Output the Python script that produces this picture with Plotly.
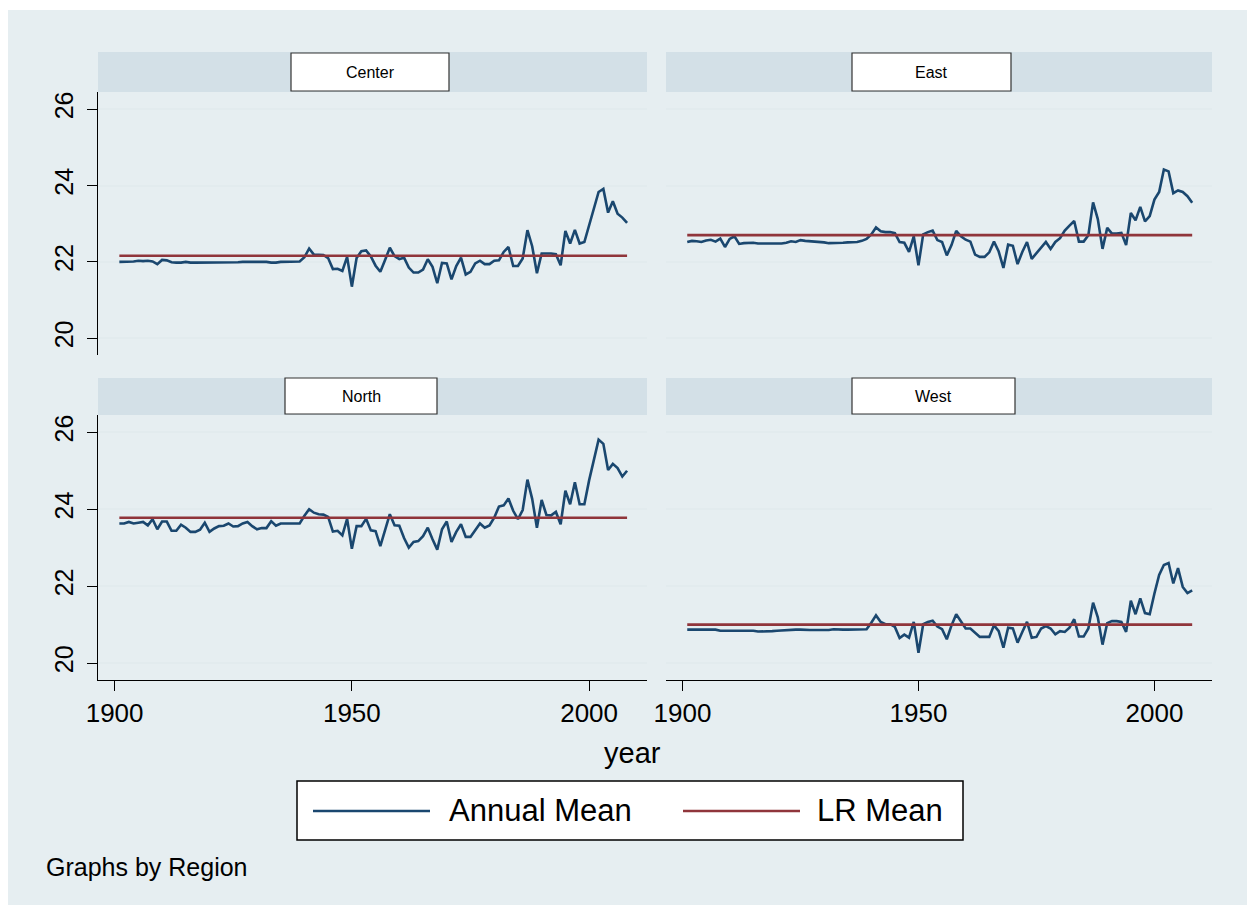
import plotly.graph_objects as go

# ---------------- data ----------------
years = list(range(1901, 2009))
regions = ["Center", "East", "North", "West"]

center = [
    22.00, 22.00, 22.00, 22.01, 22.03, 22.02, 22.03, 22.01, 21.94, 22.05,
    22.04, 21.99, 21.98, 21.98, 22.00, 21.98, 21.98, 21.98, 21.98, 21.98,
    21.98, 21.98, 21.98, 21.98, 21.98, 21.99, 22.00, 22.00, 22.00, 22.00,
    22.00, 22.00, 21.98, 21.98, 22.00, 22.00, 22.00, 22.00, 22.01, 22.12,
    22.35, 22.19, 22.19, 22.18, 22.10, 21.81, 21.82, 21.76, 22.13, 21.35,
    22.10, 22.28, 22.30, 22.14, 21.90, 21.74, 22.05, 22.37, 22.15, 22.07,
    22.11, 21.85, 21.72, 21.72, 21.80, 22.07, 21.87, 21.44, 21.97, 21.96,
    21.54, 21.89, 22.11, 21.67, 21.74, 21.96, 22.03, 21.94, 21.94, 22.03,
    22.04, 22.26, 22.39, 21.89, 21.89, 22.09, 22.83, 22.41, 21.70, 22.22,
    22.22, 22.22, 22.20, 21.91, 22.81, 22.48, 22.84, 22.48, 22.52, 22.95,
    23.40, 23.83, 23.91, 23.29, 23.59, 23.26, 23.16, 23.02,
]

east = [
    22.52, 22.55, 22.54, 22.52, 22.56, 22.58, 22.53, 22.61, 22.39, 22.60,
    22.67, 22.47, 22.49, 22.49, 22.50, 22.48, 22.48, 22.48, 22.49, 22.48,
    22.48, 22.50, 22.54, 22.52, 22.57, 22.55, 22.54, 22.54, 22.53, 22.51,
    22.49, 22.49, 22.50, 22.50, 22.51, 22.51, 22.52, 22.55, 22.60, 22.72,
    22.90, 22.80, 22.78, 22.78, 22.75, 22.52, 22.50, 22.26, 22.67, 21.91,
    22.72, 22.78, 22.82, 22.57, 22.52, 22.17, 22.44, 22.81, 22.67, 22.58,
    22.53, 22.19, 22.13, 22.13, 22.25, 22.53, 22.27, 21.84, 22.45, 22.42,
    21.94, 22.26, 22.52, 22.08, 22.23, 22.40, 22.52, 22.34, 22.52, 22.62,
    22.82, 22.95, 23.07, 22.53, 22.53, 22.70, 23.56, 23.12, 22.34, 22.89,
    22.74, 22.74, 22.76, 22.44, 23.28, 23.09, 23.44, 23.06, 23.20, 23.63,
    23.83, 24.42, 24.37, 23.80, 23.87, 23.83, 23.72, 23.55,
]

north = [
    23.63, 23.63, 23.67, 23.63, 23.65, 23.67, 23.58, 23.74, 23.48, 23.68,
    23.68, 23.44, 23.44, 23.60, 23.52, 23.41, 23.41, 23.47, 23.65, 23.41,
    23.50, 23.56, 23.57, 23.63, 23.55, 23.56, 23.63, 23.67, 23.56, 23.48,
    23.51, 23.51, 23.69, 23.57, 23.63, 23.63, 23.63, 23.63, 23.63, 23.83,
    24.00, 23.91, 23.87, 23.86, 23.80, 23.42, 23.44, 23.32, 23.75, 22.97,
    23.56, 23.56, 23.75, 23.45, 23.43, 23.04, 23.45, 23.87, 23.58, 23.57,
    23.25, 23.00, 23.15, 23.17, 23.30, 23.52, 23.22, 22.95, 23.48, 23.68,
    23.15, 23.41, 23.61, 23.28, 23.28, 23.45, 23.63, 23.52, 23.58, 23.78,
    24.07, 24.10, 24.28, 23.96, 23.74, 23.98, 24.77, 24.27, 23.52, 24.24,
    23.85, 23.84, 23.93, 23.61, 24.48, 24.13, 24.70, 24.13, 24.13, 24.75,
    25.30, 25.81, 25.70, 25.02, 25.18, 25.07, 24.85, 25.00,
]

west = [
    20.87, 20.87, 20.87, 20.87, 20.87, 20.87, 20.87, 20.84, 20.84, 20.85,
    20.85, 20.85, 20.85, 20.84, 20.84, 20.82, 20.82, 20.82, 20.83, 20.84,
    20.85, 20.85, 20.87, 20.87, 20.87, 20.86, 20.86, 20.86, 20.86, 20.86,
    20.86, 20.88, 20.87, 20.87, 20.87, 20.87, 20.87, 20.87, 20.88, 21.05,
    21.24, 21.07, 21.01, 21.01, 20.94, 20.65, 20.74, 20.66, 21.07, 20.27,
    21.01, 21.07, 21.10, 20.95, 20.88, 20.62, 20.98, 21.27, 21.07, 20.90,
    20.90, 20.78, 20.68, 20.68, 20.68, 20.98, 20.83, 20.40, 20.92, 20.90,
    20.53, 20.81, 21.07, 20.66, 20.68, 20.90, 20.96, 20.90, 20.75, 20.83,
    20.81, 20.92, 21.14, 20.69, 20.69, 20.90, 21.57, 21.19, 20.48, 21.04,
    21.09, 21.09, 21.07, 20.81, 21.62, 21.27, 21.68, 21.30, 21.27, 21.81,
    22.29, 22.55, 22.60, 22.07, 22.47, 21.98, 21.82, 21.89,
]

lr_means = [22.16, 22.70, 23.78, 21.00]
series_names = ["Annual Mean", "LR Mean"]
x_ticks = [1900, 1950, 2000]
y_ticks = [20, 22, 24, 26]
x_title = "year"
note = "Graphs by Region"

# ---------------- style / layout ----------------
# the page body adds an 8px offset, so the figure is drawn 8px smaller and
# reference pixel positions are shifted by OFF
OFF = 8
W, H = 1255 - OFF, 915 - OFF
ML, MR, MT, MB = 98 - OFF, 43, 52 - OFF, 235
PW, PH = W - ML - MR, H - MT - MB
NAVY = "#1a476f"
MAROON = "#90353b"
OUTER = "#e6eef1"
STRIP = "#d3e0e7"
GRID = "#e2ebee"
FONT = "Liberation Sans, Arial, sans-serif"


def px(x):
    return (x - OFF - ML) / PW


def py(y):
    return (H - MB - (y - OFF)) / PH


xdom = [[px(98), px(647)], [px(666), px(1212)]]
ydom = [[py(355), py(92)], [py(680), py(415)]]
strip_y = [(52, 92), (378, 415)]
box_px = [(291, 449, 53, 91), (852, 1011, 53, 91), (285, 437, 378, 414), (852, 1015, 378, 414)]
XR = [1896.5, 2012.2]
YR = [19.56, 26.45]

data_series = [center, east, north, west]

fig = go.Figure()
for i, reg in enumerate(regions):
    sfx = "" if i == 0 else str(i + 1)
    fig.add_trace(go.Scatter(
        x=years, y=data_series[i], mode="lines", name=series_names[0],
        line=dict(color=NAVY, width=2.6), xaxis="x" + sfx, yaxis="y" + sfx,
        showlegend=False, hoverinfo="skip"))
    fig.add_trace(go.Scatter(
        x=[years[0], years[-1]], y=[lr_means[i], lr_means[i]], mode="lines",
        name=series_names[1], line=dict(color=MAROON, width=2.6),
        xaxis="x" + sfx, yaxis="y" + sfx, showlegend=False, hoverinfo="skip"))

layout = dict(
    width=W, height=H,
    margin=dict(l=ML, r=MR, t=MT, b=MB),
    paper_bgcolor="white", plot_bgcolor="white",
    font=dict(family=FONT, color="black"),
    showlegend=False, hovermode=False,
)

for i in range(4):
    sfx = "" if i == 0 else str(i + 1)
    col = i % 2
    row = i // 2
    bottom = row == 1
    left = col == 0
    layout["xaxis" + sfx] = dict(
        domain=xdom[col], range=XR, anchor="y" + sfx,
        showgrid=False, zeroline=False,
        showline=bottom, linecolor="black", linewidth=1.3,
        ticks="outside" if bottom else "", ticklen=10, tickwidth=1.3, tickcolor="black",
        tickvals=x_ticks, showticklabels=bottom,
        tickfont=dict(size=26, family=FONT, color="black"),
        ticklabelstandoff=0,
    )
    layout["yaxis" + sfx] = dict(
        domain=ydom[row], range=YR, anchor="x" + sfx,
        showgrid=True, gridcolor=GRID, gridwidth=2, zeroline=False,
        showline=left, linecolor="black", linewidth=1.3,
        ticks="outside" if left else "", ticklen=10, tickwidth=1.3, tickcolor="black",
        tickvals=y_ticks, showticklabels=left, tickangle=-90,
        tickfont=dict(size=25, family=FONT, color="black"),
        ticklabelstandoff=4,
    )

shapes = []
# outer graph region
shapes.append(dict(type="rect", xref="paper", yref="paper", layer="below",
                   x0=px(7), x1=px(1247), y0=py(905), y1=py(10),
                   fillcolor=OUTER, line=dict(width=0)))
# strips
for row in range(2):
    for col in range(2):
        shapes.append(dict(type="rect", xref="paper", yref="paper", layer="below",
                           x0=xdom[col][0], x1=xdom[col][1],
                           y0=py(strip_y[row][1]), y1=py(strip_y[row][0]),
                           fillcolor=STRIP, line=dict(width=0)))
annotations = []
for i, reg in enumerate(regions):
    x0, x1, y0, y1 = box_px[i]
    shapes.append(dict(type="rect", xref="paper", yref="paper",
                       x0=px(x0), x1=px(x1), y0=py(y1), y1=py(y0),
                       fillcolor="white", line=dict(color="#333333", width=1.2)))
    annotations.append(dict(xref="paper", yref="paper", x=px((x0 + x1) / 2), y=py((y0 + y1) / 2),
                            text=reg, showarrow=False, xanchor="center", yanchor="middle",
                            font=dict(size=16, family=FONT, color="black")))

# legend (drawn manually to match Stata layout)
shapes.append(dict(type="rect", xref="paper", yref="paper",
                   x0=px(297), x1=px(963), y0=py(840), y1=py(781),
                   fillcolor="white", line=dict(color="black", width=1.5)))
shapes.append(dict(type="line", xref="paper", yref="paper",
                   x0=px(313), x1=px(430), y0=py(811), y1=py(811),
                   line=dict(color=NAVY, width=2.6)))
shapes.append(dict(type="line", xref="paper", yref="paper",
                   x0=px(683), x1=px(800), y0=py(811), y1=py(811),
                   line=dict(color=MAROON, width=2.6)))
annotations.append(dict(xref="paper", yref="paper", x=px(447), y=py(811),
                        text=series_names[0], showarrow=False, xanchor="left", yanchor="middle",
                        font=dict(size=31, family=FONT, color="black")))
annotations.append(dict(xref="paper", yref="paper", x=px(815), y=py(811),
                        text=series_names[1], showarrow=False, xanchor="left", yanchor="middle",
                        font=dict(size=31, family=FONT, color="black")))
# axis title
annotations.append(dict(xref="paper", yref="paper", x=px(632), y=py(753),
                        text=x_title, showarrow=False, xanchor="center", yanchor="middle",
                        font=dict(size=29, family=FONT, color="black")))
# note
annotations.append(dict(xref="paper", yref="paper", x=px(44), y=py(867),
                        text=note, showarrow=False, xanchor="left", yanchor="middle",
                        font=dict(size=25, family=FONT, color="black")))

layout["shapes"] = shapes
layout["annotations"] = annotations
fig.update_layout(**layout)

fig.write_html("out.html")
